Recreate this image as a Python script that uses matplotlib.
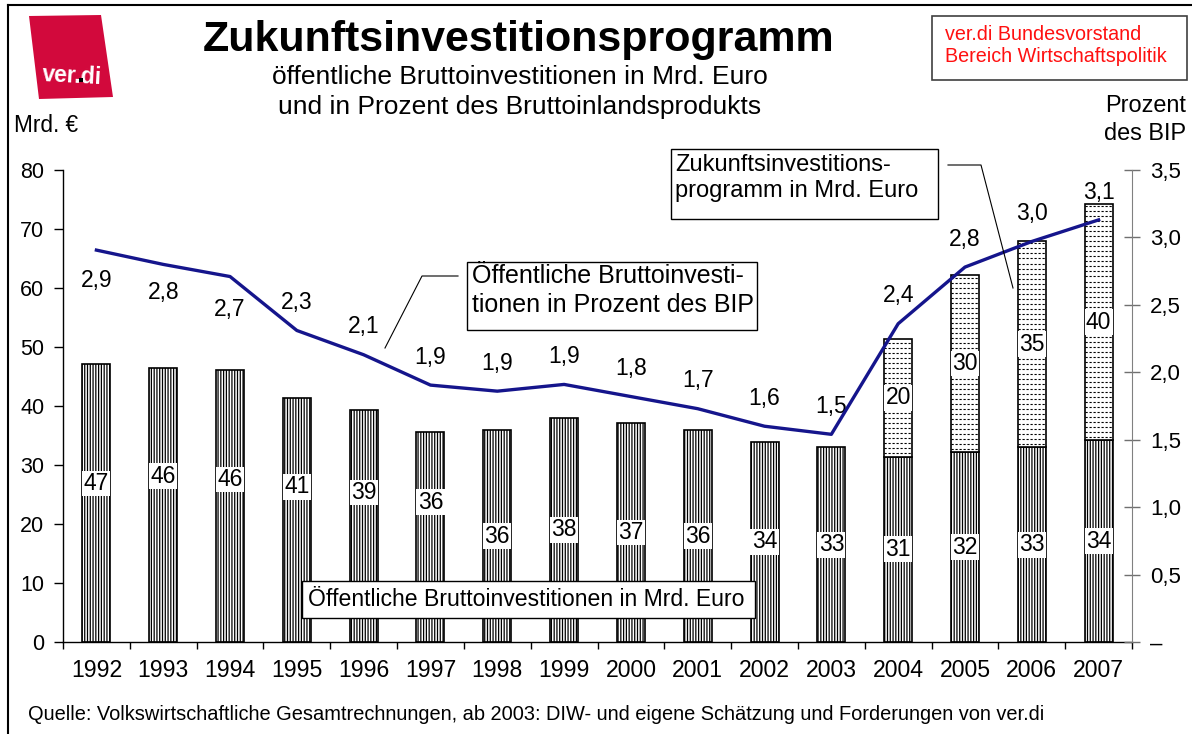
import matplotlib
matplotlib.use("Agg")
import matplotlib.pyplot as plt
from matplotlib.patches import Rectangle, Polygon
from matplotlib.lines import Line2D
import numpy as np

plt.rcParams['font.family'] = ['Liberation Sans', 'DejaVu Sans']
plt.rcParams['hatch.linewidth'] = 0.9

# ---------------- data ----------------
years = ['1992', '1993', '1994', '1995', '1996', '1997', '1998', '1999',
         '2000', '2001', '2002', '2003', '2004', '2005', '2006', '2007']
invest_bn = [47.1, 46.4, 46.1, 41.4, 39.3, 35.6, 35.9, 38.0,
             37.1, 35.9, 33.9, 33.0, 31.4, 32.2, 33.0, 34.2]
program_bn = [0, 0, 0, 0, 0, 0, 0, 0, 0, 0, 0, 0, 20, 30, 35, 40]
invest_pct_gdp = [2.906, 2.80, 2.71, 2.31, 2.13, 1.905, 1.86, 1.91,
                  1.82, 1.73, 1.60, 1.54, 2.36, 2.78, 2.97, 3.13]
left_ticks = [0, 10, 20, 30, 40, 50, 60, 70, 80]
right_ticks = [0, 0.5, 1.0, 1.5, 2.0, 2.5, 3.0, 3.5]
right_ticklabels = ['–', '0,5', '1,0', '1,5', '2,0', '2,5', '3,0', '3,5']

# layout helpers (label placement only)
base_label_shift = [3.3, 4.9, 4.5, 5.6, 5.7, 5.9, 0, 0, 0, 0, 0, 0, 0, 0, 0, 0]
pct_label_offset = [-22, -20, -24] + [20] * 13

W, H = 1192, 734
fig = plt.figure(figsize=(W / 100, H / 100), dpi=100)
fig.patch.set_facecolor('white')


def fx(px):
    return px / W


def fy(py):
    return 1 - py / H


ax = fig.add_axes([fx(63), fy(642), (1132 - 63) / W, (642 - 170) / H])
x = np.arange(len(years))
bw = 0.42

bars = ax.bar(x, invest_bn, bw, facecolor='white', edgecolor='black',
              linewidth=1.2, hatch='||||||', zorder=2)
top_bars = ax.bar(x, program_bn, bw, bottom=invest_bn, facecolor='white',
                  edgecolor='black', linewidth=1.2, zorder=2)
for xi, b0, h, patch in zip(x, invest_bn, program_bn, top_bars):
    if h <= 0:
        patch.set_visible(False)
        continue
    ys = np.arange(b0 + 0.55, b0 + h, 0.85)
    lc = ax.hlines(ys, xi - bw / 2, xi + bw / 2, colors='black',
                   linestyles=[(0, (2.0, 1.6))], linewidth=0.8, zorder=2.5)
    lc.set_clip_path(patch)

# bar labels
for xi, v, s in zip(x, invest_bn, base_label_shift):
    ax.text(xi, v / 2 + s, f"{round(v)}", ha='center', va='center',
            fontsize=16.5, zorder=4,
            bbox=dict(facecolor='white', edgecolor='none', pad=1.0))
for xi, b0, h in zip(x, invest_bn, program_bn):
    if h > 0:
        ax.text(xi, b0 + h / 2, f"{round(h)}", ha='center', va='center',
                fontsize=16.5, zorder=4,
                bbox=dict(facecolor='white', edgecolor='none', pad=1.0))

ax.set_xlim(-0.5, len(years) - 0.5)
ax.set_ylim(0, 80)
ax.set_yticks(left_ticks)
ax.set_yticklabels([str(t) for t in left_ticks])
ax.tick_params(axis='y', direction='out', length=6.5, width=1, pad=7,
               labelsize=15.5)
ax.set_xticks(np.arange(-0.5, len(years), 1.0))
ax.set_xticklabels([])
ax.set_xticks(x, minor=True)
ax.set_xticklabels(years, minor=True, fontsize=16.6)
ax.tick_params(axis='x', which='major', direction='out', length=5, width=1)
ax.tick_params(axis='x', which='minor', length=0, pad=12)
ax.spines['top'].set_visible(False)
ax.spines['right'].set_visible(False)
ax.spines['left'].set_linewidth(1.0)
ax.spines['bottom'].set_linewidth(1.0)

ax2 = ax.twinx()
ax2.plot(x, invest_pct_gdp, color='#15158c', linewidth=2.4, zorder=5)
ax2.set_ylim(0, 3.5)
ax2.set_yticks(right_ticks)
ax2.set_yticklabels(right_ticklabels)
ax2.tick_params(axis='y', direction='inout', length=12, width=1,
                colors='#707070', labelcolor='black', pad=7, labelsize=16)
for s in ['top', 'left', 'bottom']:
    ax2.spines[s].set_visible(False)
ax2.spines['right'].set_color('#808080')
for xi, v, off in zip(x, invest_pct_gdp, pct_label_offset):
    ax2.annotate(f"{v:.1f}".replace('.', ','), (xi, v), xytext=(0, off),
                 textcoords='offset points', ha='center', va='center',
                 fontsize=16.5)

# ---------------- figure decorations ----------------
fig.lines.append(Line2D([fx(8), 1], [fy(5), fy(5)], color='black', lw=1.5,
                        transform=fig.transFigure))
fig.lines.append(Line2D([fx(8), fx(8)], [fy(5), 0], color='black', lw=1.5,
                        transform=fig.transFigure))

# logo
logo = Polygon([(fx(29), fy(16)), (fx(101), fy(15)), (fx(113), fy(97)),
                (fx(39), fy(99))], closed=True, facecolor='#d2093c',
               edgecolor='none', transform=fig.transFigure)
fig.patches.append(logo)
fig.text(fx(72), fy(76), 'ver.di', color='white', fontsize=16.5,
         fontweight='bold', ha='center', va='center', rotation=-3)
fig.patches.append(Rectangle((fx(79), fy(82)), 4 / W, 4 / H,
                             facecolor='black', edgecolor='none',
                             transform=fig.transFigure, zorder=5))

fig.text(fx(519), fy(40), 'Zukunftsinvestitionsprogramm', fontsize=31,
         fontweight='bold', ha='center', va='center')
fig.text(fx(520), fy(77), 'öffentliche Bruttoinvestitionen in Mrd. Euro',
         fontsize=19, ha='center', va='center')
fig.text(fx(520), fy(107), 'und in Prozent des Bruttoinlandsprodukts',
         fontsize=19, ha='center', va='center')

# red box
fig.patches.append(Rectangle((fx(932), fy(80)), (1187 - 932) / W, 64 / H,
                             facecolor='white', edgecolor='#404040', lw=1.2,
                             transform=fig.transFigure))
fig.text(fx(945), fy(35), 'ver.di Bundesvorstand', color='#ff1010',
         fontsize=14.2, ha='left', va='center')
fig.text(fx(945), fy(57), 'Bereich Wirtschaftspolitik', color='#ff1010',
         fontsize=14.2, ha='left', va='center')

fig.text(fx(14), fy(125), 'Mrd. €', fontsize=16.3, ha='left', va='center')
fig.text(fx(1186), fy(105), 'Prozent', fontsize=16.9, ha='right', va='center')
fig.text(fx(1186), fy(133), 'des BIP', fontsize=16.9, ha='right', va='center')


def box(x0, y0, x1, y1):
    fig.patches.append(Rectangle((fx(x0), fy(y1)), (x1 - x0) / W,
                                 (y1 - y0) / H, facecolor='white',
                                 edgecolor='black', lw=1.0,
                                 transform=fig.transFigure, zorder=6))


def leader(pts):
    fig.lines.append(Line2D([fx(p[0]) for p in pts], [fy(p[1]) for p in pts],
                            color='black', lw=0.8,
                            transform=fig.transFigure, zorder=6))


box(671, 149, 938, 219)
fig.text(fx(675), fy(165), 'Zukunftsinvestitions-', fontsize=17,
         ha='left', va='center', zorder=7)
fig.text(fx(675), fy(191), 'programm in Mrd. Euro', fontsize=17,
         ha='left', va='center', zorder=7)
leader([(948, 165), (981, 165), (1013, 288)])

box(467, 262, 757, 330)
fig.text(fx(472), fy(276), 'Öffentliche Bruttoinvesti-', fontsize=18,
         ha='left', va='center', zorder=7)
fig.text(fx(472), fy(305), 'tionen in Prozent des BIP', fontsize=18,
         ha='left', va='center', zorder=7)
leader([(458, 276), (422, 276), (385, 348)])

box(302, 581, 755, 618)
fig.text(fx(308), fy(599), 'Öffentliche Bruttoinvestitionen in Mrd. Euro',
         fontsize=16.6, ha='left', va='center', zorder=7)

fig.text(fx(28), fy(715), 'Quelle: Volkswirtschaftliche Gesamtrechnungen, '
         'ab 2003: DIW- und eigene Schätzung und Forderungen von ver.di',
         fontsize=14.4, ha='left', va='center')

fig.savefig('out.png', dpi=100)
